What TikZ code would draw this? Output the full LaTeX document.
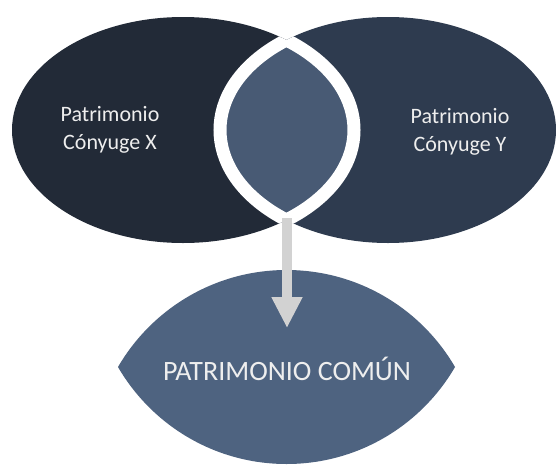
\documentclass[tikz,border=0pt]{standalone}
\usepackage{fontspec}
\setmainfont{Carlito}
\usetikzlibrary{arrows.meta,shapes.geometric}
\definecolor{cLeft}{HTML}{222A37}
\definecolor{cRight}{HTML}{2E3B4F}
\definecolor{cLens}{HTML}{485A74}
\definecolor{cCommon}{HTML}{4E6380}
\definecolor{cArrow}{HTML}{D2D2D2}
\definecolor{cText}{HTML}{EEEEEE}
\tikzset{
  blob/.style={ellipse, inner sep=0pt, draw=none},
  lbl/.style={text=cText, align=center, inner sep=0pt, font=\fontsize{22}{28}\selectfont},
  biglbl/.style={text=cText, align=center, inner sep=0pt, font=\fontsize{28}{33}\selectfont},
  ring/.style={draw=white, line width=13pt},
  flow/.style={draw=cArrow, line width=10pt, -{Triangle[width=29pt,length=31pt]}}
}
\begin{document}
\begin{tikzpicture}[x=1pt,y=-1pt]
\useasboundingbox (0,0) rectangle (556,466);
\fill[white] (0,0) rectangle (556,466);
% two ellipses
\node[blob, fill=cLeft, minimum width=342pt, minimum height=226pt] (L) at (183,130) {};
\node[blob, fill=cRight, minimum width=336pt, minimum height=226pt] (R) at (388,130) {};
% intersection lens
\begin{scope}
  \clip (183,130) ellipse [x radius=171pt, y radius=113pt];
  \fill[cLens] (388,130) ellipse [x radius=168pt, y radius=113pt];
  \draw[ring] (388,130) ellipse [x radius=168pt, y radius=113pt];
\end{scope}
\begin{scope}
  \clip (388,130) ellipse [x radius=168pt, y radius=113pt];
  \draw[ring] (183,130) ellipse [x radius=171pt, y radius=113pt];
\end{scope}
% common lens
\begin{scope}
  \clip (286.5,464.8) circle [radius=194.8pt];
  \fill[cCommon] (286.5,269.2) circle [radius=194.8pt];
\end{scope}
\coordinate (lensbot) at (287,218);
\coordinate (arrowtip) at (287,328);
\draw[flow] (lensbot) -- (arrowtip);
% labels
\node[lbl] (tx) at (110,130) {Patrimonio\\Cónyuge X};
\node[lbl] (ty) at (460,132) {Patrimonio\\Cónyuge Y};
\node[biglbl] (tc) at (287,369) {PATRIMONIO COMÚN};
\end{tikzpicture}
\end{document}
